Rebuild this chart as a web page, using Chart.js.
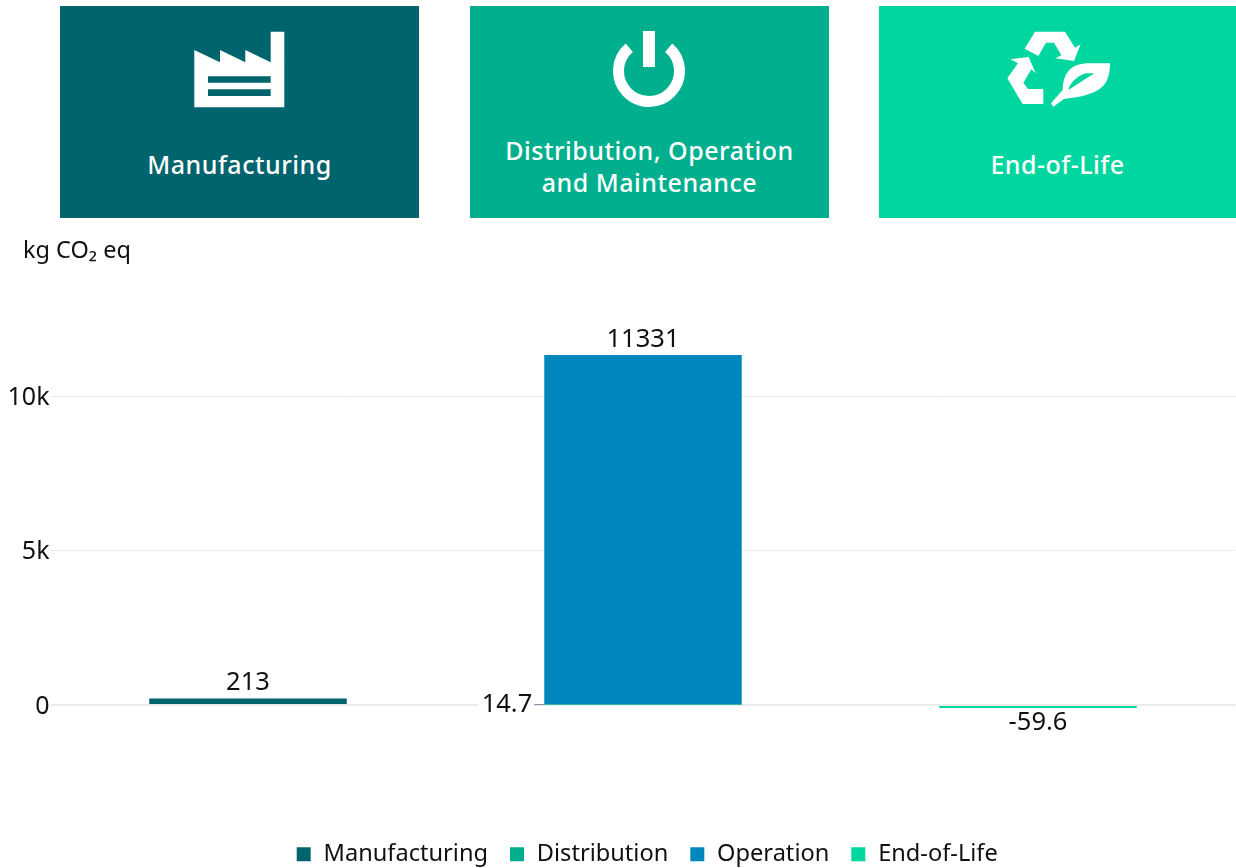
<!DOCTYPE html>
<html><head><meta charset="utf-8">
<script src="https://cdn.jsdelivr.net/npm/chart.js@4"></script>
<style>
html,body{margin:0;padding:0;background:#fff;width:1236px;height:868px;overflow:hidden;font-family:"Noto Sans",sans-serif}
#wrap{position:relative;width:1236px;height:868px}
canvas{position:absolute;left:0;top:0}
.tile{position:absolute;top:6px;height:212px;color:#fff;font-weight:500;font-size:25px;letter-spacing:.5px;line-height:32px;text-align:center}
.tile span{position:absolute;left:0;right:0}
#unit{position:absolute;left:23px;top:233px;font-size:23.5px;line-height:32px;color:#111}
#icons{position:absolute;left:0;top:0}
</style></head><body>
<div id="wrap">
<canvas id="c" width="1236" height="868"></canvas>
<div class="tile" style="left:60px;width:359px;background:#00646E"><span style="top:142px">Manufacturing</span></div>
<div class="tile" style="left:470px;width:359px;background:#00AF8E"><span style="top:128px">Distribution, Operation<br>and Maintenance</span></div>
<div class="tile" style="left:879px;width:357px;background:#00D7A0"><span style="top:142px">End-of-Life</span></div>
<svg id="icons" width="1236" height="230" fill="#fff">
 <path d="M194.3 50L220 62.3V50L245.3 62.3V50L270.7 62.3V31.7H284.3V107.3H194.3ZM208 76.3V82.7H270.7V76.3ZM208 89.3V96H270.7V89.3Z" fill-rule="evenodd"/>
 <path d="M629.3 47.7A30.5 30.5 0 1 0 668.7 47.7" fill="none" stroke="#fff" stroke-width="11"/>
 <rect x="643" y="31" width="12" height="36"/>
 <g transform="translate(870,0) scale(.33333)">
  <path d="M464 146L495 95H585L615 143L632 133L612 183L556 175L574 166L552 128H528L505 168Z"/>
  <path d="M422 178L476 171L497 220L484 208L460 248L474 267H520V312H458L412 235L444 190Z"/>
  <path fill-rule="evenodd" d="M543 310L550 320L582 297C690 285 720 260 720 190H660C600 190 580 220 578 270ZM595 270L673 220H648C620 228 600 250 595 270Z"/>
 </g>
</svg>
<div id="unit">kg CO₂ eq</div>
</div>
<script>
const categories = ["Manufacturing", "Distribution, Operation and Maintenance", "End-of-Life"];
const seriesNames = ["Manufacturing", "Distribution", "Operation", "End-of-Life"];
const manufacturing = [213, null, null];
const distribution = [null, 14.7, null];
const operation = [null, 11331, null];
const endOfLife = [null, null, -59.6];
const seriesColors = ["#00646E", "#00AF8E", "#0087BE", "#00D7A0"];
const yTicks = [0, 5000, 10000];
const tickLabels = ["0", "5k", "10k"];
const FONT = '"Noto Sans", sans-serif';

const labelPlugin = {
  id: "valueLabels",
  afterLayout(chart) {
    chart.legend.left += 29;
    chart.legend.right += 29;
    const y = chart.scales.y;
    if (!y._shifted) {
      const draw = y.drawLabels;
      y.drawLabels = function (area) {
        chart.ctx.save();
        chart.ctx.translate(0, 1.5);
        draw.call(this, area);
        chart.ctx.restore();
      };
      y._shifted = true;
    }
  },
  afterDatasetsDraw(chart) {
    const ctx = chart.ctx;
    ctx.save();
    ctx.font = "25.5px " + FONT;
    ctx.textBaseline = "middle";
    chart.data.datasets.forEach((ds, i) => {
      const meta = chart.getDatasetMeta(i);
      ds.data.forEach((v, j) => {
        if (v === null) return;
        const el = meta.data[j];
        const text = String(v);
        if (i === 1) {
          const left = el.x - el.width / 2;
          ctx.fillStyle = "#fff";
          ctx.fillRect(left - 66, el.y - 14, 56, 24);
          ctx.strokeStyle = "#7F90A5";
          ctx.lineWidth = 1;
          ctx.beginPath();
          ctx.moveTo(left - 10, el.y);
          ctx.lineTo(left, el.y);
          ctx.stroke();
          ctx.fillStyle = "#111";
          ctx.textAlign = "right";
          ctx.fillText(text, left - 12, el.y);
        } else {
          ctx.fillStyle = "#111";
          ctx.textAlign = "center";
          const y = v < 0 ? el.base + 17 : el.y - 15.5;
          ctx.fillText(text, el.x, y);
        }
      });
    });
    ctx.restore();
  }
};

new Chart(document.getElementById("c"), {
  type: "bar",
  data: {
    labels: categories,
    datasets: [manufacturing, distribution, operation, endOfLife].map((d, i) => ({
      label: seriesNames[i],
      data: d,
      backgroundColor: seriesColors[i],
      borderWidth: 0,
      barPercentage: 0.5,
      categoryPercentage: 1,
      minBarLength: i === 3 ? 3 : 0
    }))
  },
  options: {
    responsive: false,
    animation: false,
    layout: { padding: { top: 334.8, bottom: -8, left: 0, right: 0.5 } },
    plugins: {
      title: { display: false },
      tooltip: { enabled: false },
      legend: {
        position: "bottom",
        labels: {
          usePointStyle: true, pointStyle: "rect",
          boxWidth: 16, boxHeight: 14,
          padding: 21,
          color: "#111",
          font: { family: FONT, size: 23.6 }
        }
      }
    },
    scales: {
      x: {
        stacked: true,
        display: true,
        afterFit(s) { s.height = 54.7; },
        grid: { display: false, drawTicks: false },
        border: { display: false },
        ticks: { display: false }
      },
      y: {
        stacked: true,
        min: -2000,
        max: 12000,
        afterBuildTicks(s) { s.ticks = yTicks.map(v => ({ value: v })); },
        afterFit(s) { s.width = 50.5; },
        border: { display: false },
        grid: {
          drawTicks: false,
          color: "#EBEBEB",
          lineWidth: c => c.tick && c.tick.value === 0 ? 2 : 1
        },
        ticks: {
          padding: 1,
          color: "#111",
          font: { family: FONT, size: 25 },
          callback: v => tickLabels[yTicks.indexOf(v)]
        }
      }
    }
  },
  plugins: [labelPlugin]
});
</script>
</body></html>
